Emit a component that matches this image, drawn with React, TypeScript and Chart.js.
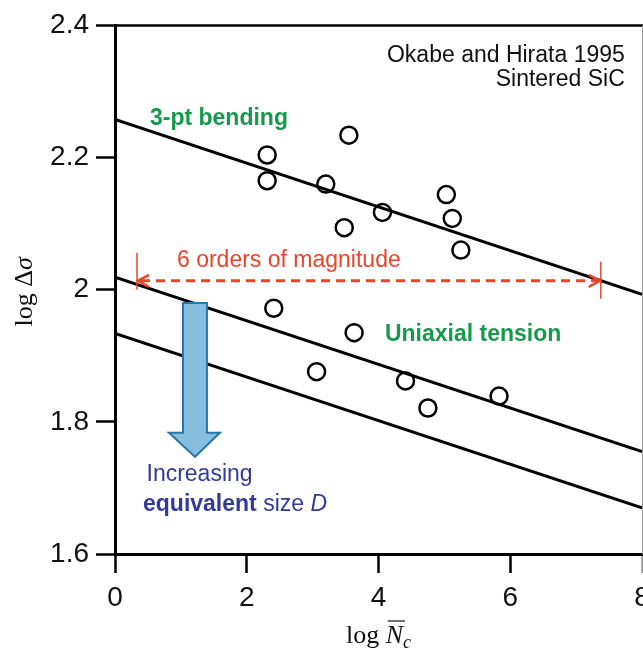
import React, { useEffect, useRef } from "react";
import { Chart, registerables } from "chart.js";

Chart.register(...registerables);

// ---- data ----
const xTickValues = [0, 2, 4, 6, 8];
const yTickValues = [1.6, 1.8, 2.0, 2.2, 2.4];

const bendingLogN = [2.31, 2.31, 3.2, 3.55, 3.48, 4.06, 5.03, 5.12, 5.25];
const bendingLogS = [2.204, 2.165, 2.16, 2.234, 2.094, 2.117, 2.144, 2.108, 2.06];

const tensionLogN = [2.41, 3.63, 3.06, 4.41, 4.75, 5.83];
const tensionLogS = [1.972, 1.935, 1.876, 1.862, 1.821, 1.839];

const fitLogN = [0, 8];
const bendingFit = [2.258, 1.993];
const tensionFit = [2.019, 1.755];
const largerSizeFit = [1.934, 1.67];

const rangeArrowLogN = [0.334, 7.375];
const rangeArrowLogS = 2.0135;

// ---- styles ----
const SANS = '"Liberation Sans", Arial, Helvetica, sans-serif';
const SERIF = '"Liberation Serif", "Times New Roman", serif';
const GREEN = "#17994a";
const RED = "#e8452c";
const BLUE_TEXT = "#34399c";
const ARROW_FILL = "#86bedf";
const ARROW_STROKE = "#2a78a8";

const W = 700;
const H = 653;

const toPts = (xs: number[], ys: number[]) => xs.map((v, i) => ({ x: v, y: ys[i] }));

export default function App() {
  const ref = useRef<HTMLCanvasElement | null>(null);

  useEffect(() => {
    document.body.style.margin = "0";
    const canvas = ref.current;
    if (!canvas) return;

    const annot = {
      id: "annot",
      afterDatasetsDraw(chart: any) {
        const { ctx, chartArea: a, scales } = chart;
        const xs = scales.x;
        const ys = scales.y;
        const px = (v: number) => xs.getPixelForValue(v);
        const py = (v: number) => ys.getPixelForValue(v);
        ctx.save();

        // top and right frame
        ctx.strokeStyle = "#000";
        ctx.lineWidth = 2.5;
        ctx.beginPath();
        ctx.moveTo(a.left, a.top);
        ctx.lineTo(W, a.top);
        ctx.stroke();
        ctx.strokeStyle = "#9a9a9a";
        ctx.lineWidth = 1;
        ctx.beginPath();
        ctx.moveTo(a.right + 0.5, a.top);
        ctx.lineTo(a.right + 0.5, a.bottom);
        ctx.stroke();

        // red range arrow
        const ay = py(rangeArrowLogS);
        const x1 = px(rangeArrowLogN[0]);
        const x2 = px(rangeArrowLogN[1]);
        ctx.strokeStyle = RED;
        ctx.lineWidth = 3;
        ctx.setLineDash([9, 6]);
        ctx.beginPath();
        ctx.moveTo(x1 + 4, ay);
        ctx.lineTo(x2 - 4, ay);
        ctx.stroke();
        ctx.setLineDash([]);
        ctx.lineWidth = 2.5;
        ctx.beginPath();
        ctx.moveTo(x1 + 12, ay - 6);
        ctx.lineTo(x1 + 1, ay);
        ctx.lineTo(x1 + 12, ay + 6);
        ctx.moveTo(x2 - 12, ay - 6);
        ctx.lineTo(x2 - 1, ay);
        ctx.lineTo(x2 - 12, ay + 6);
        ctx.stroke();
        ctx.lineWidth = 1.5;
        ctx.beginPath();
        ctx.moveTo(x1, ay - 28);
        ctx.lineTo(x1, ay + 9);
        ctx.moveTo(x2, ay - 19);
        ctx.lineTo(x2, ay + 18);
        ctx.stroke();

        // blue arrow
        ctx.beginPath();
        ctx.moveTo(px(1.032), py(1.98));
        ctx.lineTo(px(1.396), py(1.98));
        ctx.lineTo(px(1.396), py(1.7835));
        ctx.lineTo(px(1.593), py(1.7835));
        ctx.lineTo(px(1.214), py(1.7472));
        ctx.lineTo(px(0.819), py(1.7835));
        ctx.lineTo(px(1.032), py(1.7835));
        ctx.closePath();
        ctx.fillStyle = ARROW_FILL;
        ctx.fill();
        ctx.strokeStyle = ARROW_STROKE;
        ctx.lineWidth = 2;
        ctx.stroke();

        // texts
        ctx.textBaseline = "alphabetic";
        ctx.fillStyle = "#111";
        ctx.font = `23px ${SANS}`;
        ctx.textAlign = "right";
        ctx.fillText("Okabe and Hirata 1995", px(7.739), py(2.3448));
        ctx.fillText("Sintered SiC", px(7.739), py(2.309));

        ctx.textAlign = "left";
        ctx.fillStyle = GREEN;
        ctx.font = `bold 23px ${SANS}`;
        ctx.fillText("3-pt bending", px(0.531), py(2.2495));
        ctx.fillText("Uniaxial tension", px(4.097), py(1.922));

        ctx.fillStyle = RED;
        ctx.font = `23px ${SANS}`;
        ctx.fillText("6 orders of magnitude", px(0.941), py(2.0346));

        ctx.fillStyle = BLUE_TEXT;
        ctx.font = `23px ${SANS}`;
        ctx.fillText("Increasing", px(0.478), py(1.71));
        let tx = px(0.425);
        const ty = py(1.6645);
        ctx.font = `bold 23px ${SANS}`;
        ctx.fillText("equivalent", tx, ty);
        tx += ctx.measureText("equivalent").width;
        ctx.font = `23px ${SANS}`;
        ctx.fillText(" size ", tx, ty);
        tx += ctx.measureText(" size ").width;
        ctx.font = `italic 23px ${SANS}`;
        ctx.fillText("D", tx, ty);

        // x axis title: log N̄c
        ctx.fillStyle = "#111";
        ctx.strokeStyle = "#111";
        const f1 = `26px ${SERIF}`;
        const f2 = `italic 26px ${SERIF}`;
        const f3 = `italic 18px ${SERIF}`;
        ctx.font = f1;
        const wLog = ctx.measureText("log ").width;
        ctx.font = f2;
        const wN = ctx.measureText("N").width;
        ctx.font = f3;
        const wc = ctx.measureText("c").width;
        const total = wLog + wN + wc;
        const bx = (a.left + a.right) / 2 - total / 2;
        const by = 643;
        ctx.font = f1;
        ctx.fillText("log ", bx, by);
        ctx.font = f2;
        ctx.fillText("N", bx + wLog, by);
        ctx.lineWidth = 1.2;
        ctx.beginPath();
        ctx.moveTo(bx + wLog + 2, by - 22);
        ctx.lineTo(bx + wLog + wN + 2, by - 22);
        ctx.stroke();
        ctx.font = f3;
        ctx.fillText("c", bx + wLog + wN, by + 5);

        // y axis title: log Δσ
        ctx.translate(32, (a.top + a.bottom) / 2 + 2);
        ctx.rotate(-Math.PI / 2);
        ctx.font = f1;
        const wl = ctx.measureText("log Δ").width;
        ctx.font = f2;
        const ws = ctx.measureText("σ").width;
        const sx = -(wl + ws) / 2;
        ctx.font = f1;
        ctx.fillText("log Δ", sx, 0);
        ctx.font = f2;
        ctx.fillText("σ", sx + wl, 0);

        ctx.restore();
      },
    };

    const lineDs = (data: number[]) => ({
      type: "line" as const,
      data: toPts(fitLogN, data),
      borderColor: "#000",
      borderWidth: 3,
      pointRadius: 0,
      fill: false,
      showLine: true,
    });

    const chart = new Chart(canvas, {
      type: "scatter",
      data: {
        datasets: [
          lineDs(bendingFit) as any,
          lineDs(tensionFit) as any,
          lineDs(largerSizeFit) as any,
          {
            data: toPts(bendingLogN, bendingLogS),
            pointRadius: 8.5,
            pointBorderWidth: 2.5,
            pointBorderColor: "#000",
            pointBackgroundColor: "rgba(0,0,0,0)",
          },
          {
            data: toPts(tensionLogN, tensionLogS),
            pointRadius: 8.5,
            pointBorderWidth: 2.5,
            pointBorderColor: "#000",
            pointBackgroundColor: "rgba(0,0,0,0)",
          },
        ],
      },
      options: {
        animation: false,
        responsive: false,
        events: [],
        layout: { padding: { left: 0, right: W - 642, top: 25.5, bottom: 0 } },
        plugins: { legend: { display: false }, tooltip: { enabled: false }, title: { display: false } },
        scales: {
          x: {
            type: "linear",
            min: 0,
            max: 8,
            afterBuildTicks: (s: any) => {
              s.ticks = xTickValues.map((v) => ({ value: v }));
            },
            afterFit: (s: any) => {
              s.height = H - 554;
            },
            ticks: {
              font: { family: SANS, size: 28 },
              color: "#111",
              padding: 8,
              maxRotation: 0,
              autoSkip: false,
              callback: (v: any) => String(Number(Number(v).toFixed(1))),
            },
            grid: {
              drawOnChartArea: false,
              drawTicks: true,
              tickLength: 19,
              tickWidth: 2.5,
              tickColor: (c: any) => (c.tick && c.tick.value === 8 ? "#9a9a9a" : "#000"),
            },
            border: { display: true, color: "#000", width: 3 },
          },
          y: {
            type: "linear",
            min: 1.6,
            max: 2.4,
            afterBuildTicks: (s: any) => {
              s.ticks = yTickValues.map((v) => ({ value: v }));
            },
            afterFit: (s: any) => {
              s.width = 115;
            },
            ticks: {
              font: { family: SANS, size: 28 },
              color: "#111",
              padding: 7,
              autoSkip: false,
              callback: (v: any) => String(Number(Number(v).toFixed(1))),
            },
            grid: {
              drawOnChartArea: false,
              drawTicks: true,
              tickLength: 19,
              tickWidth: 2.5,
              tickColor: "#000",
            },
            border: { display: true, color: "#000", width: 3 },
          },
        },
      },
      plugins: [annot],
    } as any);

    return () => chart.destroy();
  }, []);

  return (
    <div style={{ width: 643, height: 653, overflow: "hidden", position: "relative", background: "#fff" }}>
      <canvas ref={ref} width={W} height={H} style={{ display: "block", width: W, height: H }} />
    </div>
  );
}
